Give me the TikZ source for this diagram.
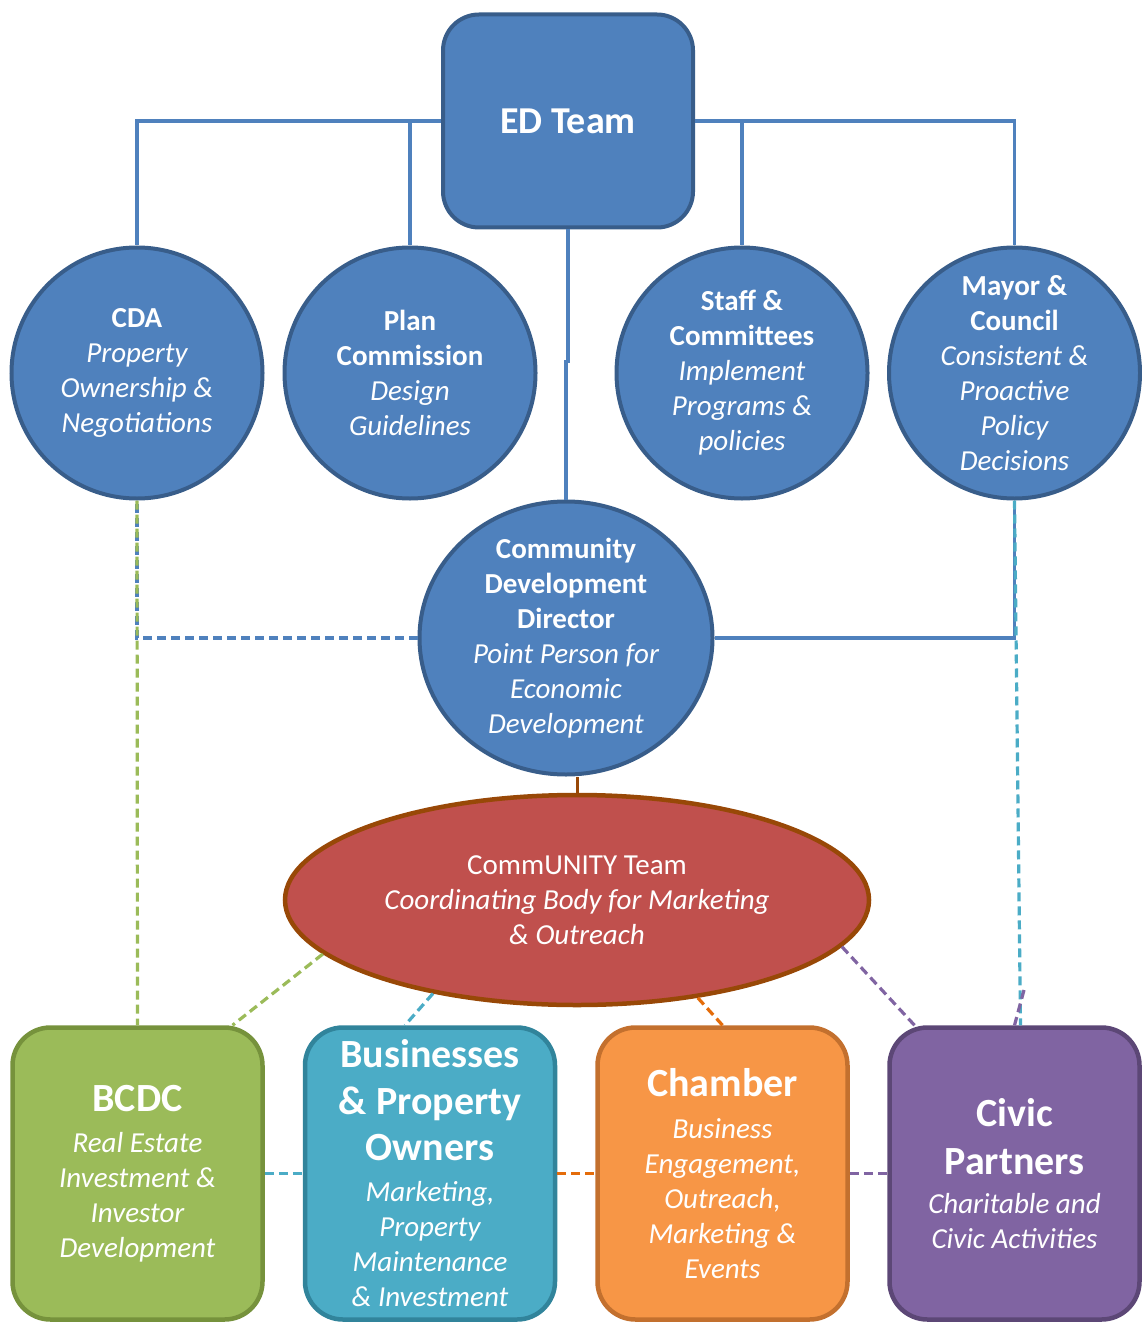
\documentclass[tikz,border=0pt]{standalone}
\usepackage{fontspec}
\setmainfont{Carlito}
\usetikzlibrary{shapes.geometric}
\definecolor{edfill}{HTML}{4F81BD}
\definecolor{edline}{HTML}{385D8A}
\definecolor{redfill}{HTML}{C0504D}
\definecolor{redline}{HTML}{984807}
\definecolor{grnfill}{HTML}{9BBB59}
\definecolor{grnline}{HTML}{76923C}
\definecolor{cyfill}{HTML}{4BACC6}
\definecolor{cyline}{HTML}{31849B}
\definecolor{orfill}{HTML}{F79646}
\definecolor{orline}{HTML}{C3702E}
\definecolor{orlink}{HTML}{E46C0A}
\definecolor{pufill}{HTML}{8064A2}
\definecolor{puline}{HTML}{5C4776}
\newcommand{\hd}[1]{\textup{\textbf{#1}}}
\newcommand{\cardhd}[1]{{\fontsize{40}{47}\selectfont\upshape\bfseries #1}}
\begin{document}
\begin{tikzpicture}[x=1pt,y=-1pt,
  txt/.style={text=white,align=center,font=\fontsize{29}{35}\selectfont\itshape},
  bubble/.style={circle,fill=edfill,draw=edline,line width=4pt,minimum size=251pt,inner sep=0pt},
  card/.style={rectangle,rounded corners=38pt,line width=4.5pt,minimum width=250pt,minimum height=292pt,inner sep=0pt,txt},
  link/.style={draw=edfill,line width=3.2pt},
  dlink/.style={line width=3.2pt,dash pattern=on 9pt off 5pt}]
\useasboundingbox (0,0) rectangle (1142,1324);

% top row
\node[rectangle,rounded corners=36pt,fill=edfill,draw=edline,line width=4pt,minimum width=250pt,minimum height=213pt,txt] (ed) at (568,121) {\hd{\fontsize{38}{38}\selectfont ED Team}};
\node[bubble,label={[txt]center:{\hd{CDA}\\Property\\Ownership \&\\Negotiations}}] (cda) at (137,373) {};
\node[bubble,label={[txt]center:{\hd{Plan}\\\hd{Commission}\\Design\\Guidelines}}] (plan) at (410,373) {};
\node[bubble,label={[txt]center:{\hd{Staff \&}\\\hd{Committees}\\Implement\\Programs \&\\policies}}] (staff) at (742,373) {};
\node[bubble,label={[txt]center:{\hd{Mayor \&}\\\hd{Council}\\Consistent \&\\Proactive\\Policy\\Decisions}}] (mayor) at (1014.5,373) {};

% middle
\node[ellipse,fill=edfill,draw=edline,line width=4pt,minimum width=293pt,minimum height=273pt,inner sep=0pt,label={[txt]center:{\hd{Community}\\\hd{Development}\\\hd{Director}\\Point Person for\\Economic\\Development}}] (cdd) at (566,638) {};
\node[ellipse,fill=redfill,draw=redline,line width=4.5pt,minimum width=584pt,minimum height=210pt,inner sep=0pt,txt] (comm) at (577,900) {\textup{CommUNITY Team}\\Coordinating Body for Marketing\\\& Outreach};

% partners
\node[card,fill=grnfill,draw=grnline] (bcdc) at (137.5,1173.5) {\cardhd{BCDC}\\[6pt]Real Estate\\Investment \&\\Investor\\Development};
\node[card,fill=cyfill,draw=cyline] (bus) at (430,1173.5) {\cardhd{Businesses}\\[12pt]\cardhd{\& Property}\\[11pt]\cardhd{Owners}\\[6pt]Marketing,\\Property\\Maintenance\\\& Investment};
\node[card,fill=orfill,draw=orline] (cham) at (722.5,1173.5) {\cardhd{Chamber}\\[7pt]Business\\Engagement,\\Outreach,\\Marketing \&\\Events};
\node[card,fill=pufill,draw=puline] (civic) at (1014.5,1173.5) {\cardhd{Civic}\\[13pt]\cardhd{Partners}\\[4pt]Charitable and\\Civic Activities};

% connectors
\path[link] (ed.west) -| (cda.north) (ed.west) -| (plan.north) (ed.east) -| (staff.north) (ed.east) -| (mayor.north);
\path[link] (ed.south) -- ++(0,132) -| (cdd.north);
\path[link] (cdd.east) -| (mayor.south);
\path[draw=edfill,dlink] (cdd.west) -| (cda.south);
\path[draw=grnfill,dlink] (cda.south) -- (bcdc.north);
\path[draw=cyfill,dlink] (mayor.south) -- ([xshift=6pt]civic.north);
\coordinate (pv) at (1024,990);
\path[draw=pufill,dlink] (pv) -- (civic.north);
\path[draw=redline,line width=3pt] (comm.north) -- (comm.north |- cdd.south);
\path[draw=grnfill,dlink] (comm.192) -- ([xshift=95pt]bcdc.north);
\path[draw=cyfill,dlink] (comm.213) -- ([xshift=-25pt]bus.north);
\path[draw=orlink,dlink] (comm.321) -- (cham.north);
\path[draw=pufill,dlink] (comm.350) -- ([xshift=-100pt]civic.north);
\path[draw=cyfill,dlink] (bcdc.east) -- (bus.west);
\path[draw=orlink,dlink] (bus.east) -- (cham.west);
\path[draw=pufill,dlink] (cham.east) -- (civic.west);
\end{tikzpicture}
\end{document}
